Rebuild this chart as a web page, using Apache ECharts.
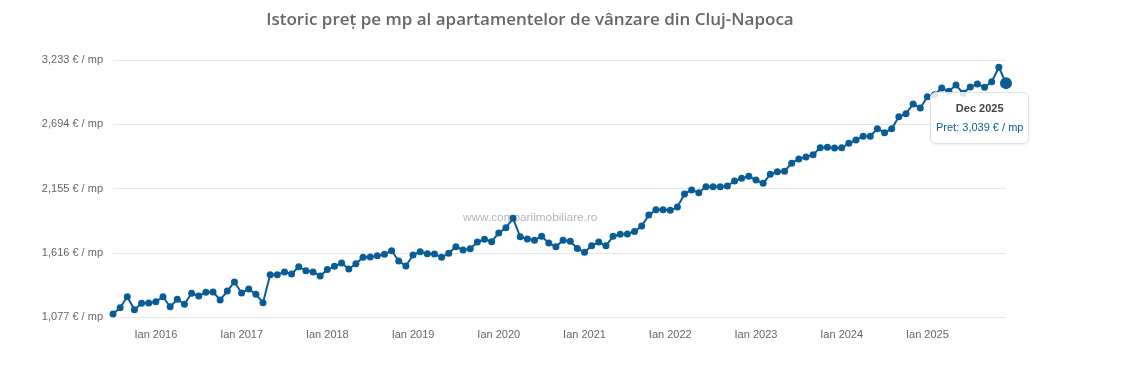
<!DOCTYPE html>
<html>
<head>
<meta charset="utf-8">
<script src="https://cdn.jsdelivr.net/npm/echarts@6/dist/echarts.min.js"></script>
<style>
  html, body { margin: 0; padding: 0; background: #fff; }
  #chart { width: 1135px; height: 386px; }
</style>
</head>
<body>
<div id="chart"></div>
<script>
const titleText = 'Istoric preț pe mp al apartamentelor de vânzare din Cluj-Napoca';
const watermarkText = 'www.compariimobiliare.ro';
const monthNames = ['Ian','Feb','Mar','Apr','Mai','Iun','Iul','Aug','Sep','Oct','Noi','Dec'];
const years = [2015, 2016, 2017, 2018, 2019, 2020, 2021, 2022, 2023, 2024, 2025];
const firstMonthIndex = 6; // series starts Iul 2015

// monthly price per m² (€), Iul 2015 – Dec 2025
const prices2015 = [1102, 1155, 1247, 1138, 1192, 1194];
const prices2016 = [1205, 1247, 1163, 1225, 1184, 1276, 1253, 1284, 1287, 1220, 1295, 1371];
const prices2017 = [1278, 1312, 1267, 1197, 1432, 1432, 1455, 1438, 1499, 1465, 1455, 1421];
const prices2018 = [1475, 1502, 1530, 1480, 1524, 1578, 1580, 1591, 1603, 1633, 1547, 1505];
const prices2019 = [1597, 1625, 1608, 1606, 1578, 1611, 1667, 1639, 1650, 1706, 1729, 1709];
const prices2020 = [1782, 1826, 1905, 1750, 1732, 1720, 1755, 1697, 1667, 1721, 1713, 1652];
const prices2021 = [1620, 1675, 1706, 1674, 1754, 1771, 1773, 1795, 1840, 1932, 1976, 1977];
const prices2022 = [1972, 1999, 2109, 2143, 2120, 2170, 2170, 2170, 2176, 2218, 2241, 2257];
const prices2023 = [2226, 2199, 2274, 2296, 2300, 2367, 2403, 2420, 2439, 2497, 2501, 2495];
const prices2024 = [2497, 2534, 2562, 2593, 2593, 2657, 2623, 2657, 2757, 2783, 2864, 2830];
const prices2025 = [2925, 2942, 2998, 2970, 3023, 2954, 3007, 3032, 3004, 3051, 3172, 3039];

const yTicks = [1077, 1616, 2155, 2694, 3233];

const prices = [].concat(prices2015, prices2016, prices2017, prices2018, prices2019,
  prices2020, prices2021, prices2022, prices2023, prices2024, prices2025);

const categories = [];
years.forEach((y, yi) => {
  monthNames.forEach((m, mi) => {
    if (yi === 0 && mi < firstMonthIndex) return;
    categories.push(m + ' ' + y);
  });
});

const lastIndex = prices.length - 1;
const fmt = v => v.toLocaleString('en-US');
const FONT = '"Liberation Sans", Arial, sans-serif';
const BLUE = '#0a5c95';

const chart = echarts.init(document.getElementById('chart'), null, { renderer: 'canvas' });
chart.setOption({
  animation: false,
  textStyle: { fontFamily: FONT },
  title: {
    text: titleText,
    left: 525,
    textAlign: 'center',
    top: 7,
    textStyle: { fontFamily: '"Open Sans", sans-serif', fontSize: 17, fontWeight: 600, color: '#666' }
  },
  graphic: [{
    type: 'text',
    left: 463,
    top: 212,
    silent: true,
    style: { text: watermarkText, fill: '#b5b5b5', font: '11.8px ' + FONT }
  }],
  grid: { left: 113, right: 129, top: 60, bottom: 69, containLabel: false },
  xAxis: {
    type: 'category',
    data: categories,
    boundaryGap: false,
    axisLine: { show: false },
    axisTick: { show: false },
    axisLabel: {
      interval: (i, v) => v.indexOf('Ian') === 0,
      color: '#666',
      fontSize: 11,
      margin: 12,
      fontFamily: FONT
    },
    splitLine: { show: false }
  },
  yAxis: {
    type: 'value',
    min: yTicks[0],
    max: yTicks[yTicks.length - 1],
    interval: yTicks[1] - yTicks[0],
    axisLine: { show: false },
    axisTick: { show: false },
    axisLabel: {
      formatter: v => fmt(v) + ' € / mp',
      color: '#666',
      fontSize: 11,
      margin: 10,
      padding: [4, 0, 0, 0],
      fontFamily: FONT
    },
    splitLine: { show: true, lineStyle: { color: '#e6e6e6', width: 1 } }
  },
  tooltip: {
    trigger: 'item',
    alwaysShowContent: true,
    showDelay: 0,
    transitionDuration: 0,
    backgroundColor: 'rgba(255,255,255,0.85)',
    borderColor: '#e3e3e3',
    borderWidth: 1,
    borderRadius: 6,
    padding: [6, 5],
    position: () => [930, 92],
    extraCssText: 'box-shadow: 0 1px 3px rgba(0,0,0,0.08);',
    formatter: p => '<div style="text-align:center;font-family:Liberation Sans,Arial,sans-serif;font-size:11px;line-height:19px;">' +
      '<div style="color:#444;font-weight:bold;">' + p.name + '</div>' +
      '<div style="color:' + BLUE + ';">Pret: ' + fmt(p.value) + ' € / mp</div></div>'
  },
  series: [{
    type: 'line',
    data: prices,
    symbol: 'circle',
    symbolSize: (v, p) => p.dataIndex === lastIndex ? 12 : 7,
    showAllSymbol: true,
    itemStyle: { color: BLUE },
    lineStyle: { color: BLUE, width: 2 },
    emphasis: { disabled: true }
  }]
});
chart.dispatchAction({ type: 'showTip', seriesIndex: 0, dataIndex: lastIndex });
</script>
</body>
</html>
